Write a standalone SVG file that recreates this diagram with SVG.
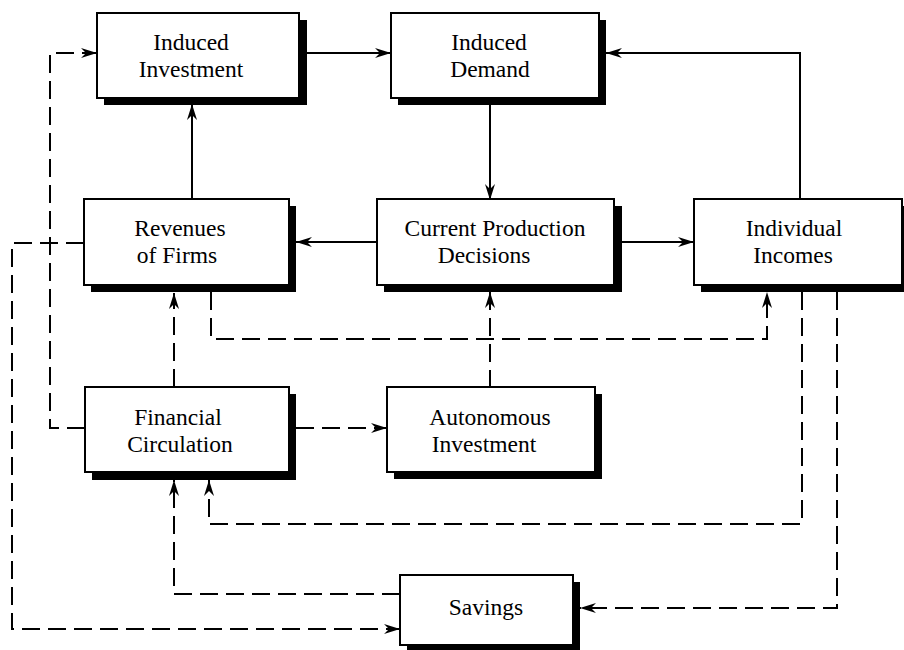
<svg xmlns="http://www.w3.org/2000/svg" width="904" height="650" viewBox="0 0 904 650">
<style>
.box{fill:#fff;stroke:#000;stroke-width:2}
.sh{fill:#000}
.t{font-family:"Liberation Serif","Times New Roman",serif;font-size:23.5px;fill:#000;text-anchor:middle}
.s{fill:none;stroke:#000;stroke-width:2}
.d{fill:none;stroke:#000;stroke-width:2;stroke-dasharray:18 8}
</style>
<defs>
<marker id="ah" viewBox="0 0 16 10" refX="16" refY="5" markerWidth="16" markerHeight="10" orient="auto" markerUnits="userSpaceOnUse">
<path d="M0,0 L16,5 L0,10 L5,5 Z" fill="#000" stroke="none"/>
</marker>
</defs>
<rect width="904" height="650" fill="#fff"/>
<g id="connectors">
<path class="s" d="M306,53 H391" marker-end="url(#ah)"/>
<path class="s" d="M800,200 V53 H606" marker-end="url(#ah)"/>
<path class="s" d="M490,104 V200" marker-end="url(#ah)"/>
<path class="s" d="M377,242 H296" marker-end="url(#ah)"/>
<path class="s" d="M622,242 H694" marker-end="url(#ah)"/>
<path class="s" d="M192,199 V104" marker-end="url(#ah)"/>
<path class="d" d="M85,428 H50 V53 H97" marker-end="url(#ah)"/>
<path class="d" d="M84,243 H12 V629 H400" marker-end="url(#ah)"/>
<path class="d" d="M211,292 V339 H767 V292" marker-end="url(#ah)"/>
<path class="d" d="M490,388 V292" marker-end="url(#ah)"/>
<path class="d" d="M174,387 V293" marker-end="url(#ah)"/>
<path class="d" d="M296,428 H387" marker-end="url(#ah)"/>
<path class="d" d="M802,292 V524 H209 V480" marker-end="url(#ah)"/>
<path class="d" d="M837,292 V608 H580" marker-end="url(#ah)"/>
<path class="d" d="M400,594 H174 V480" marker-end="url(#ah)"/>
</g>
<g id="induced-investment">
<rect class="sh" x="104" y="20" width="203" height="85"/>
<rect class="box" x="97" y="13" width="202" height="85"/>
<text class="t" x="191" y="50">Induced</text>
<text class="t" x="191" y="77">Investment</text>
</g>
<g id="induced-demand">
<rect class="sh" x="398" y="20" width="208" height="85"/>
<rect class="box" x="391" y="13" width="208" height="85"/>
<text class="t" x="489" y="50">Induced</text>
<text class="t" x="490" y="77">Demand</text>
</g>
<g id="revenues-of-firms">
<rect class="sh" x="91" y="206" width="205" height="86"/>
<rect class="box" x="84" y="199" width="205" height="86"/>
<text class="t" x="180" y="236">Revenues</text>
<text class="t" x="177" y="263">of Firms</text>
</g>
<g id="current-production-decisions">
<rect class="sh" x="384" y="206" width="238" height="86"/>
<rect class="box" x="377" y="199" width="237" height="86"/>
<text class="t" x="495" y="236">Current Production</text>
<text class="t" x="484" y="263">Decisions</text>
</g>
<g id="individual-incomes">
<rect class="sh" x="701" y="206" width="210" height="86"/>
<rect class="box" x="694" y="199" width="208" height="86"/>
<text class="t" x="794" y="236">Individual</text>
<text class="t" x="793" y="263">Incomes</text>
</g>
<g id="financial-circulation">
<rect class="sh" x="92" y="394" width="204" height="86"/>
<rect class="box" x="85" y="387" width="204" height="85"/>
<text class="t" x="178" y="425">Financial</text>
<text class="t" x="180" y="452">Circulation</text>
</g>
<g id="autonomous-investment">
<rect class="sh" x="394" y="394" width="208" height="85"/>
<rect class="box" x="387" y="387" width="208" height="85"/>
<text class="t" x="490" y="425">Autonomous</text>
<text class="t" x="484" y="452">Investment</text>
</g>
<g id="savings">
<rect class="sh" x="407" y="582" width="173" height="70"/>
<rect class="box" x="400" y="575" width="173" height="70"/>
<text class="t" x="486" y="615">Savings</text>
</g>
</svg>
